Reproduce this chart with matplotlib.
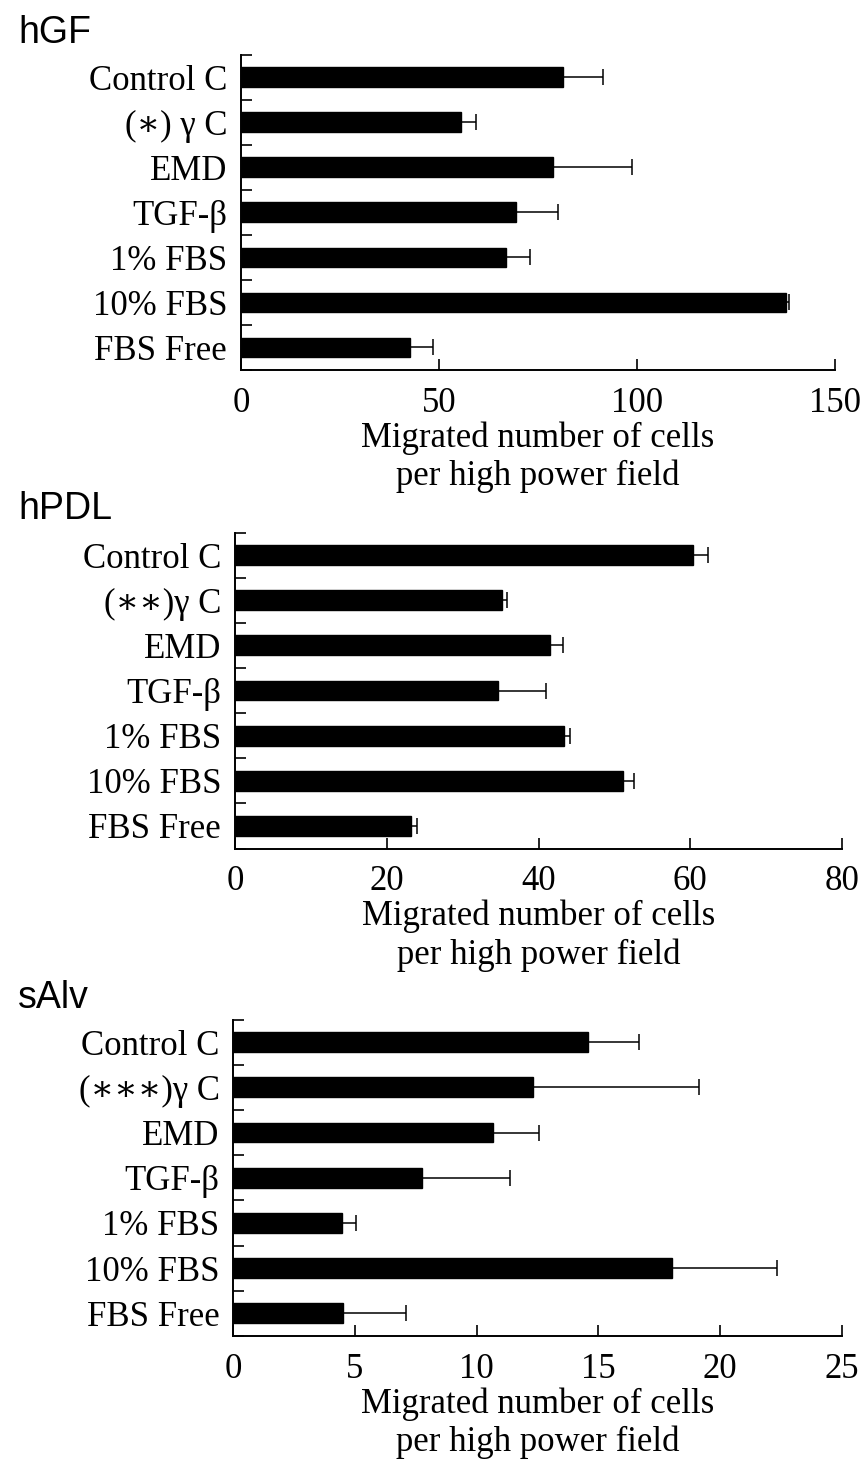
import matplotlib
matplotlib.use("Agg")
import matplotlib.pyplot as plt
import matplotlib.transforms as mtransforms
import numpy as np

# ---- data ----
labels_hgf = ["Control C", "(\u2217) \u03b3 C", "EMD", "TGF-\u03b2", "1% FBS", "10% FBS", "FBS Free"]
labels_hpdl = ["Control C", "(\u2217\u2217)\u03b3 C", "EMD", "TGF-\u03b2", "1% FBS", "10% FBS", "FBS Free"]
labels_salv = ["Control C", "(\u2217\u2217\u2217)\u03b3 C", "EMD", "TGF-\u03b2", "1% FBS", "10% FBS", "FBS Free"]

hgf_mean = [81.4, 55.5, 78.9, 69.4, 66.9, 137.7, 42.8]
hgf_err = [10.1, 3.8, 19.9, 10.6, 6.1, 0.8, 5.6]

hpdl_mean = [60.3, 35.2, 41.5, 34.7, 43.4, 51.1, 23.2]
hpdl_err = [2.0, 0.7, 1.7, 6.3, 0.8, 1.5, 0.8]

salv_mean = [14.58, 12.30, 10.68, 7.76, 4.46, 18.02, 4.49]
salv_err = [2.11, 6.82, 1.89, 3.63, 0.60, 4.31, 2.61]

hgf_ticks = [0, 50, 100, 150]
hpdl_ticks = [0, 20, 40, 60, 80]
salv_ticks = [0, 5, 10, 15, 20, 25]

titles = ["hGF", "hPDL", "sAlv"]
xlabel = "Migrated number of cells\nper high power field"

W, H = 867, 1461
fig = plt.figure(figsize=(W / 100, H / 100), dpi=100)

serif = ["Liberation Serif", "DejaVu Serif"]
sans = ["Liberation Sans", "DejaVu Sans"]
FS = 25

# panel boxes in pixels: left, right, top, bottom
boxes = [(241, 834.5, 54.8, 370), (235, 842, 532.5, 848.5), (233.4, 841.6, 1019.5, 1336)]
title_tops = [15, 491, 980]

panels = [
    (labels_hgf, hgf_mean, hgf_err, hgf_ticks),
    (labels_hpdl, hpdl_mean, hpdl_err, hpdl_ticks),
    (labels_salv, salv_mean, salv_err, salv_ticks),
]

shift_up = mtransforms.ScaledTranslation(0, 9 / 100, fig.dpi_scale_trans)

for (labels, mean, err, ticks), (l, r, t, b), title, tt in zip(panels, boxes, titles, title_tops):
    ax = fig.add_axes([l / W, 1 - b / H, (r - l) / W, (b - t) / H])
    n = len(labels)
    y = np.arange(n)
    ax.barh(y, mean, height=0.44, color="black", edgecolor="black")
    ax.errorbar(mean, y, xerr=[np.zeros(n), err], fmt="none", ecolor="black",
                elinewidth=1.1, capsize=6, capthick=1.1)
    ax.set_ylim(n - 0.5, -0.5)
    ax.set_xlim(ticks[0], ticks[-1])
    ax.set_yticks(y)
    ax.set_yticklabels(labels, fontfamily=serif, fontsize=FS)
    for lab in ax.get_yticklabels():
        lab.set_transform(lab.get_transform() + shift_up)
    ax.set_yticks(np.arange(-0.5, n, 1.0), minor=True)
    ax.tick_params(axis="y", which="major", length=0, pad=10)
    ax.tick_params(axis="y", which="minor", direction="in", length=8, width=1.2)
    ax.set_xticks(ticks)
    ax.set_xticklabels([str(v) for v in ticks], fontfamily=serif, fontsize=FS)
    ax.tick_params(axis="x", direction="in", length=8, width=1.2, pad=12)
    for s in ["top", "right"]:
        ax.spines[s].set_visible(False)
    for s in ["left", "bottom"]:
        ax.spines[s].set_linewidth(1.4)
    ax.set_xlabel(xlabel, fontfamily=serif, fontsize=FS, labelpad=1, linespacing=1.2)
    fig.text(18 / W, 1 - tt / H, title, fontfamily=sans, fontsize=27, va="top", ha="left")

fig.savefig("out.png", dpi=100)
